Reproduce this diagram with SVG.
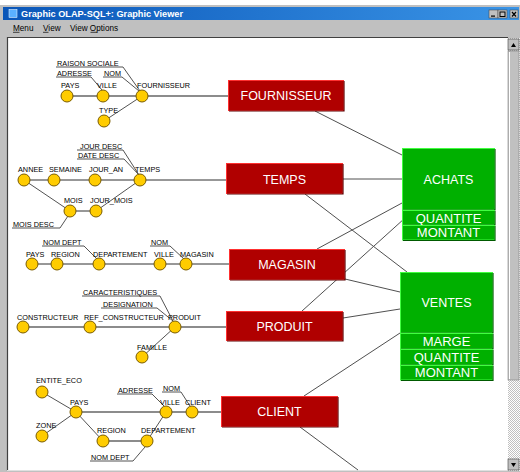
<svg xmlns="http://www.w3.org/2000/svg" width="520" height="472" viewBox="0 0 520 472">
<defs>
<linearGradient id="tb" x1="0" y1="0" x2="1" y2="0">
<stop offset="0" stop-color="#0a56b8"/>
<stop offset="1" stop-color="#3a94e6"/>
</linearGradient>
<pattern id="dith" width="2" height="2" patternUnits="userSpaceOnUse">
<rect width="2" height="2" fill="#ffffff"/>
<rect width="1" height="1" fill="#c0c0c0"/>
<rect x="1" y="1" width="1" height="1" fill="#c0c0c0"/>
</pattern>
</defs>
<style>
.lbl{font-family:"Liberation Sans",Arial,sans-serif;font-size:7.3px;fill:#000}
.att{fill:#ffcc00;stroke:#7a5c00;stroke-width:1}
.axis{stroke:#8c8c8c;stroke-width:2;fill:none}
.axd{stroke:#303030;stroke-width:1;fill:none}
.thin{stroke:#404040;stroke-width:0.9;fill:none}
.rel{stroke:#505050;stroke-width:1;fill:none}
.dim{fill:#b00000;stroke:#ff3030;stroke-width:1}
.dsh{stroke:#5a0000;stroke-width:1.2;fill:none}
.fact{fill:#00b000;stroke:#40ff40;stroke-width:1}
.fsh{stroke:#005a00;stroke-width:1.2;fill:none}
.bt{font-family:"Liberation Sans",Arial,sans-serif;font-size:12.5px;fill:#ffffff;text-anchor:middle}
.st{font-family:"Liberation Sans",Arial,sans-serif;font-size:13px;fill:#ffffff;text-anchor:middle}
.menu{font-family:"Liberation Sans",Arial,sans-serif;font-size:8.2px;fill:#000}
</style>
<!-- window chrome -->
<rect x="0" y="0" width="520" height="472" fill="#ffffff"/>
<rect x="0" y="5" width="520" height="467" fill="#c0c0c0"/>
<rect x="3" y="7" width="516" height="13" fill="url(#tb)"/>
<rect x="9" y="9.5" width="8" height="8" fill="#5ab0ff" stroke="#ffffff" stroke-width="0.5"/>
<text x="21" y="17" font-family="Liberation Sans,Arial,sans-serif" font-size="9.4" font-weight="bold" fill="#ffffff" textLength="162" lengthAdjust="spacingAndGlyphs">Graphic OLAP-SQL+: Graphic Viewer</text>
<g id="winbuttons">
<rect x="489" y="10" width="9" height="8" fill="#c0c0c0" stroke="#404040" stroke-width="0.5"/>
<rect x="491" y="15.5" width="4" height="1.2" fill="#000"/>
<rect x="498" y="10" width="9" height="8" fill="#c0c0c0" stroke="#404040" stroke-width="0.5"/>
<rect x="500" y="12" width="5" height="4.5" fill="none" stroke="#000" stroke-width="1"/>
<rect x="510" y="10" width="8" height="8" fill="#c0c0c0" stroke="#404040" stroke-width="0.5"/>
<path d="M512 12 L516 16.5 M516 12 L512 16.5" stroke="#000" stroke-width="1.2"/>
</g>
<g id="menubar">
<text class="menu" x="13" y="31">Menu</text>
<line x1="13" y1="32.3" x2="19.5" y2="32.3" stroke="#000" stroke-width="0.7"/>
<text class="menu" x="43" y="31">View</text>
<line x1="43" y1="32.3" x2="48.5" y2="32.3" stroke="#000" stroke-width="0.7"/>
<text class="menu" x="70" y="31">View Options</text>
<line x1="90.5" y1="32.3" x2="97" y2="32.3" stroke="#000" stroke-width="0.7"/>
</g>
<rect x="7" y="37" width="501" height="434" fill="#ffffff"/>
<line x1="7" y1="37.5" x2="508" y2="37.5" stroke="#404040" stroke-width="1.2"/>
<line x1="7.5" y1="37" x2="7.5" y2="471" stroke="#404040" stroke-width="1.2"/>
<line x1="7" y1="470.5" x2="520" y2="470.5" stroke="#e0e0e0" stroke-width="1"/>
<g id="scrollbar">
<rect x="508" y="38" width="12" height="433" fill="url(#dith)"/>
<rect x="508" y="51" width="11" height="329" fill="#c0c0c0" stroke="#808080" stroke-width="0.6"/>
<line x1="509.5" y1="52" x2="509.5" y2="379" stroke="#ffffff" stroke-width="1"/>
<rect x="508" y="39" width="11" height="11" fill="#c0c0c0" stroke="#404040" stroke-width="0.6"/>
<path d="M511 47 L516 47 L513.5 43 Z" fill="#000"/>
<rect x="508" y="459" width="11" height="11" fill="#c0c0c0" stroke="#404040" stroke-width="0.6"/>
<path d="M511 463 L516 463 L513.5 467 Z" fill="#000"/>
</g>
<!-- connectors -->
<g id="connectors">
<line class="rel" x1="315" y1="111" x2="402" y2="155"/>
<line class="rel" x1="343" y1="179" x2="402" y2="179"/>
<line class="rel" x1="305" y1="194" x2="407" y2="272"/>
<line class="rel" x1="317" y1="249" x2="402" y2="203"/>
<line class="rel" x1="345" y1="279" x2="400" y2="292"/>
<line class="rel" x1="302" y1="311" x2="415" y2="209"/>
<line class="rel" x1="343" y1="318" x2="400" y2="309"/>
<line class="rel" x1="304" y1="396" x2="400" y2="333"/>
<line class="rel" x1="300" y1="427" x2="358" y2="470"/>
<!-- fournisseur -->
<line class="axis" x1="67" y1="96" x2="228" y2="96"/>
<line class="thin" x1="104" y1="121" x2="142" y2="96"/>
<polyline class="thin" points="56,67 123,67 140,91"/>
<polyline class="thin" points="56,77 91,77 102,90"/>
<polyline class="thin" points="103,77 122,77 139,91"/>
<!-- temps -->
<line class="axd" x1="24" y1="180" x2="226" y2="180"/>
<line class="thin" x1="24" y1="180" x2="70" y2="211"/>
<line class="axd" x1="70" y1="211" x2="96" y2="211"/>
<line class="thin" x1="96" y1="211" x2="140" y2="180"/>
<polyline class="thin" points="77,150 123,150 139,175"/>
<polyline class="thin" points="77,159 124,159 139,175"/>
<polyline class="thin" points="12,228 60,228 68,216"/>
<!-- magasin -->
<line class="axd" x1="32" y1="264" x2="229" y2="264"/>
<polyline class="thin" points="42,246 84,246 97,259"/>
<polyline class="thin" points="150,246 170,246 184,259"/>
<!-- produit -->
<line class="axis" x1="23" y1="327" x2="226" y2="327"/>
<line class="thin" x1="142" y1="357" x2="175" y2="327"/>
<polyline class="thin" points="82,296 160,296 173,321"/>
<polyline class="thin" points="101,308 157,308 173,321"/>
<!-- client -->
<line class="axis" x1="76" y1="412" x2="221" y2="412"/>
<line class="thin" x1="42" y1="392" x2="76" y2="412"/>
<line class="thin" x1="42" y1="436" x2="76" y2="412"/>
<line class="thin" x1="76" y1="412" x2="103" y2="441"/>
<line class="axis" x1="103" y1="441" x2="147" y2="441"/>
<line class="thin" x1="147" y1="441" x2="166" y2="412"/>
<polyline class="thin" points="117,394 152,394 164,406"/>
<polyline class="thin" points="162,392 181,392 190,406"/>
<polyline class="thin" points="90,461 133,461 145,447"/>
</g>
<!-- attribute nodes -->
<g id="f-pays"><circle class="att" cx="67" cy="96" r="6"/><text class="lbl" x="61" y="88">PAYS</text></g>
<g id="f-ville"><circle class="att" cx="103" cy="96" r="6"/><text class="lbl" x="97" y="88">VILLE</text></g>
<g id="f-fournisseur"><circle class="att" cx="142" cy="96" r="6"/><text class="lbl" x="137" y="88">FOURNISSEUR</text></g>
<g id="f-type"><circle class="att" cx="104" cy="121" r="6"/><text class="lbl" x="99" y="113">TYPE</text></g>
<g id="f-raison"><text class="lbl" x="57" y="66">RAISON SOCIALE</text></g>
<g id="f-adresse"><text class="lbl" x="57" y="76">ADRESSE</text></g>
<g id="f-nom"><text class="lbl" x="104" y="76">NOM</text></g>

<g id="t-annee"><circle class="att" cx="24" cy="180" r="6"/><text class="lbl" x="18" y="172">ANNEE</text></g>
<g id="t-semaine"><circle class="att" cx="54" cy="180" r="6"/><text class="lbl" x="49" y="172">SEMAINE</text></g>
<g id="t-jouran"><circle class="att" cx="95" cy="180" r="6"/><text class="lbl" x="89" y="172">JOUR_AN</text></g>
<g id="t-temps"><circle class="att" cx="140" cy="180" r="6"/><text class="lbl" x="135" y="172">TEMPS</text></g>
<g id="t-mois"><circle class="att" cx="70" cy="211" r="6"/><text class="lbl" x="64" y="203">MOIS</text></g>
<g id="t-jourmois"><circle class="att" cx="96" cy="211" r="6"/><text class="lbl" x="90" y="203">JOUR_MOIS</text></g>
<g id="t-jourdesc"><text class="lbl" x="80" y="149">JOUR DESC</text></g>
<g id="t-datedesc"><text class="lbl" x="78" y="158">DATE DESC</text></g>
<g id="t-moisdesc"><text class="lbl" x="13" y="227">MOIS DESC</text></g>

<g id="m-pays"><circle class="att" cx="32" cy="264" r="6"/><text class="lbl" x="26" y="257">PAYS</text></g>
<g id="m-region"><circle class="att" cx="57" cy="264" r="6"/><text class="lbl" x="51" y="257">REGION</text></g>
<g id="m-dept"><circle class="att" cx="99" cy="264" r="6"/><text class="lbl" x="93" y="257">DEPARTEMENT</text></g>
<g id="m-ville"><circle class="att" cx="160" cy="264" r="6"/><text class="lbl" x="154" y="257">VILLE</text></g>
<g id="m-magasin"><circle class="att" cx="186" cy="264" r="6"/><text class="lbl" x="180" y="257">MAGASIN</text></g>
<g id="m-nomdept"><text class="lbl" x="43" y="245">NOM DEPT</text></g>
<g id="m-nom"><text class="lbl" x="151" y="245">NOM</text></g>

<g id="p-constructeur"><circle class="att" cx="23" cy="327" r="6"/><text class="lbl" x="17" y="320">CONSTRUCTEUR</text></g>
<g id="p-ref"><circle class="att" cx="90" cy="327" r="6"/><text class="lbl" x="84" y="320">REF_CONSTRUCTEUR</text></g>
<g id="p-produit"><circle class="att" cx="175" cy="327" r="6"/><text class="lbl" x="168" y="320">PRODUIT</text></g>
<g id="p-famille"><circle class="att" cx="142" cy="357" r="6"/><text class="lbl" x="137" y="350">FAMILLE</text></g>
<g id="p-caract"><text class="lbl" x="83" y="295">CARACTERISTIQUES</text></g>
<g id="p-design"><text class="lbl" x="103" y="307">DESIGNATION</text></g>

<g id="c-entite"><circle class="att" cx="42" cy="392" r="6"/><text class="lbl" x="36" y="383">ENTITE_ECO</text></g>
<g id="c-pays"><circle class="att" cx="76" cy="412" r="6"/><text class="lbl" x="70" y="405">PAYS</text></g>
<g id="c-zone"><circle class="att" cx="42" cy="436" r="6"/><text class="lbl" x="36" y="428">ZONE</text></g>
<g id="c-ville"><circle class="att" cx="166" cy="412" r="6"/><text class="lbl" x="160" y="405">VILLE</text></g>
<g id="c-client"><circle class="att" cx="192" cy="412" r="6"/><text class="lbl" x="185" y="405">CLIENT</text></g>
<g id="c-region"><circle class="att" cx="103" cy="441" r="6"/><text class="lbl" x="97" y="433">REGION</text></g>
<g id="c-dept"><circle class="att" cx="147" cy="441" r="6"/><text class="lbl" x="141" y="433">DEPARTEMENT</text></g>
<g id="c-adresse"><text class="lbl" x="118" y="393">ADRESSE</text></g>
<g id="c-nom"><text class="lbl" x="163" y="391">NOM</text></g>
<g id="c-nomdept"><text class="lbl" x="91" y="460">NOM DEPT</text></g>

<!-- dimension boxes -->
<g id="dim-fournisseur"><rect class="dim" x="228.5" y="80.5" width="115" height="30"/><polyline class="dsh" points="229,111 344,111 344,81"/><text class="bt" x="286" y="100">FOURNISSEUR</text></g>
<g id="dim-temps"><rect class="dim" x="226.5" y="163.5" width="116" height="30"/><polyline class="dsh" points="227,194 343,194 343,164"/><text class="bt" x="284.5" y="184">TEMPS</text></g>
<g id="dim-magasin"><rect class="dim" x="229.5" y="249.5" width="115" height="30"/><polyline class="dsh" points="230,280 345,280 345,250"/><text class="bt" x="287" y="269">MAGASIN</text></g>
<g id="dim-produit"><rect class="dim" x="226.5" y="311.5" width="116" height="29"/><polyline class="dsh" points="227,341 343,341 343,312"/><text class="bt" x="284.5" y="331">PRODUIT</text></g>
<g id="dim-client"><rect class="dim" x="221.5" y="396.5" width="116" height="30"/><polyline class="dsh" points="222,427 338,427 338,397"/><text class="bt" x="279.5" y="416">CLIENT</text></g>

<!-- fact boxes -->
<g id="fact-achats">
<rect class="fact" x="402.5" y="148.5" width="92" height="61"/><polyline class="fsh" points="403,210 495,210 495,149"/><text class="bt" x="448.5" y="184">ACHATS</text>
<rect class="fact" x="402.5" y="210.5" width="92" height="14"/><polyline class="fsh" points="403,225 495,225 495,211"/><text class="st" x="448.5" y="222.5">QUANTITE</text>
<rect class="fact" x="402.5" y="225.5" width="92" height="14.5"/><polyline class="fsh" points="403,240.5 495,240.5 495,226"/><text class="st" x="448.5" y="237">MONTANT</text>
</g>
<g id="fact-ventes">
<rect class="fact" x="400.5" y="272.5" width="92" height="60"/><polyline class="fsh" points="401,333 493,333 493,273"/><text class="bt" x="446.5" y="307">VENTES</text>
<rect class="fact" x="400.5" y="333.5" width="92" height="15"/><polyline class="fsh" points="401,349 493,349 493,334"/><text class="st" x="446.5" y="346">MARGE</text>
<rect class="fact" x="400.5" y="349.5" width="92" height="15"/><polyline class="fsh" points="401,365 493,365 493,350"/><text class="st" x="446.5" y="361.5">QUANTITE</text>
<rect class="fact" x="400.5" y="365.5" width="92" height="14.5"/><polyline class="fsh" points="401,380.5 493,380.5 493,366"/><text class="st" x="446.5" y="377">MONTANT</text>
</g>
</svg>
